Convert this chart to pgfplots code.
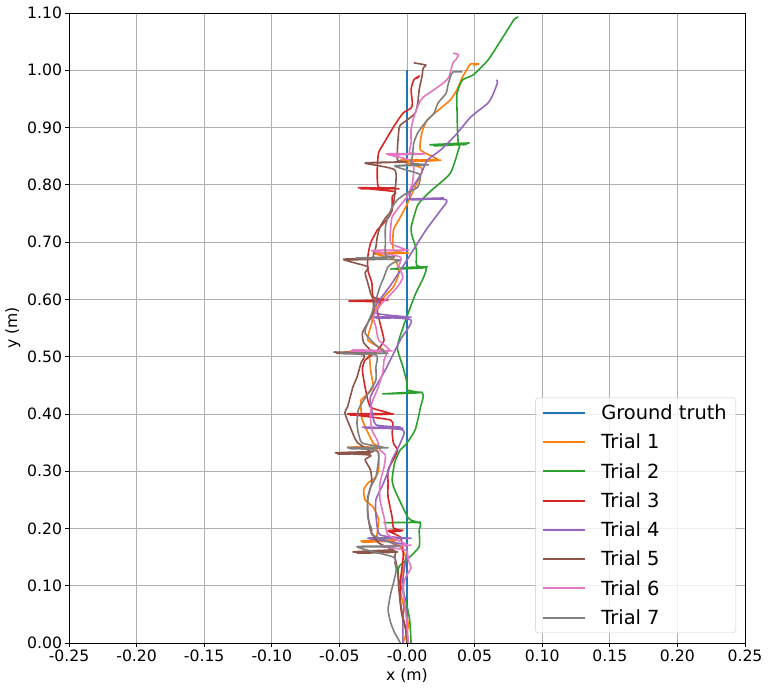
\documentclass[border=0pt]{standalone}
\usepackage{fontspec}
\setmainfont{DejaVu Sans}
\usepackage{pgfplots}
\pgfplotsset{compat=1.18}
\definecolor{tabblue}{HTML}{1F77B4}
\definecolor{taborange}{HTML}{FF7F0E}
\definecolor{tabgreen}{HTML}{2CA02C}
\definecolor{tabred}{HTML}{D62728}
\definecolor{tabpurple}{HTML}{9467BD}
\definecolor{tabbrown}{HTML}{8C564B}
\definecolor{tabpink}{HTML}{E377C2}
\definecolor{tabgray}{HTML}{7F7F7F}
\begin{document}
\begin{tikzpicture}
\begin{axis}[
 scale only axis, width=676bp, height=630bp,
 xmin=-0.25, xmax=0.25, ymin=0, ymax=1.1,
 xtick={-0.25,-0.2,-0.15,-0.1,-0.05,0,0.05,0.1,0.15,0.2,0.25},
 xticklabels={-0.25,-0.20,-0.15,-0.10,-0.05,-0.00,0.05,0.10,0.15,0.20,0.25},
 ytick={0,0.1,0.2,0.3,0.4,0.5,0.6,0.7,0.8,0.9,1.0,1.1},
 yticklabels={0.00,0.10,0.20,0.30,0.40,0.50,0.60,0.70,0.80,0.90,1.00,1.10},
 xtick pos=lower, ytick pos=left,
 tick align=outside, major tick length=3.5bp,
 tick style={black, line width=0.8bp},
 axis line style={line width=0.8bp},
 grid=major, grid style={black!31, line width=0.8bp},
 ticklabel style={font=\fontsize{15.7}{18}\selectfont},
 label style={font=\fontsize{15.7}{18}\selectfont},
 xlabel={x (m)}, ylabel={y (m)},
 legend cell align=left,
 legend style={at={(0.9867,0.0159)}, anchor=south east,
  font=\fontsize{19.5}{23}\selectfont, draw=black!20, fill=white,
  fill opacity=0.8, text opacity=1, rounded corners=3bp,
  inner xsep=7bp, inner ysep=5bp, row sep=9bp,
  /tikz/every odd column/.append style={column sep=13bp}},
 legend image code/.code={\draw[#1, line width=2bp, opacity=1, sharp corners] (0bp,0bp) -- (42bp,0bp);},
 every axis plot/.append style={line width=1.6bp, line join=round, smooth, tension=0.35},
]
% ground truth
\addplot[tabblue] coordinates {(0,0) (0,1.0)};
% trial 1
\addplot[taborange] coordinates {
 (-0.003,0) (0.001,0.028) (0.000,0.045) (-0.003,0.070) (-0.005,0.093) (-0.003,0.127)
 (-0.001,0.150) (-0.006,0.171) (-0.016,0.178)
 (-0.034,0.178) (-0.007,0.180) (-0.033,0.176) (-0.009,0.178)
 (-0.022,0.180) (-0.021,0.215) (-0.025,0.237) (-0.031,0.250) (-0.032,0.267)
 (-0.029,0.279) (-0.023,0.290) (-0.021,0.302) (-0.021,0.325) (-0.023,0.339)
 (-0.044,0.342) (-0.018,0.342) (-0.042,0.341) (-0.020,0.342)
 (-0.025,0.349) (-0.033,0.389) (-0.034,0.407) (-0.034,0.424) (-0.029,0.435)
 (-0.025,0.447) (-0.027,0.477) (-0.029,0.506)
 (-0.046,0.508) (-0.014,0.510) (-0.042,0.508) (-0.017,0.510)
 (-0.029,0.529) (-0.026,0.559) (-0.025,0.576) (-0.017,0.604) (-0.010,0.622)
 (-0.006,0.646) (-0.009,0.669)
 (-0.025,0.681) (0.001,0.681) (-0.023,0.679) (-0.001,0.681)
 (-0.010,0.686) (-0.010,0.721) (-0.006,0.739) (-0.001,0.761) (0.004,0.786)
 (0.009,0.812) (0.011,0.829)
 (-0.005,0.843) (0.025,0.843) (-0.003,0.841) (0.023,0.843)
 (0.010,0.861) (0.011,0.891) (0.015,0.913) (0.025,0.934) (0.032,0.948)
 (0.037,0.966) (0.041,0.988) (0.045,1.004) (0.047,1.011) (0.053,1.011) (0.049,1.009)};
% trial 2
\addplot[tabgreen] coordinates {
 (0.003,0) (0.002,0.040) (-0.001,0.075) (-0.006,0.110) (-0.006,0.133) (0.001,0.148)
 (0.009,0.168) (0.009,0.197) (0.009,0.210)
 (-0.017,0.210) (0.010,0.211) (-0.014,0.210) (0.007,0.211)
 (0.001,0.218) (-0.009,0.267) (-0.011,0.285) (-0.009,0.316) (-0.005,0.337)
 (-0.001,0.346) (0.006,0.372) (0.010,0.412) (0.011,0.437)
 (-0.018,0.435) (0.011,0.438) (-0.015,0.435) (0.009,0.437)
 (0.000,0.442) (0.000,0.454) (-0.003,0.482) (-0.007,0.512) (-0.006,0.529)
 (-0.001,0.564) (0.006,0.608) (0.014,0.655)
 (-0.012,0.653) (0.015,0.657) (-0.009,0.653) (0.012,0.655)
 (0.007,0.660) (0.007,0.686) (0.004,0.709) (0.003,0.725) (0.008,0.765)
 (0.017,0.788) (0.032,0.820) (0.038,0.861) (0.038,0.870)
 (0.017,0.870) (0.046,0.873) (0.020,0.868) (0.044,0.871)
 (0.038,0.873) (0.037,0.931) (0.037,0.960) (0.041,0.983) (0.049,0.992)
 (0.060,1.018) (0.071,1.058) (0.079,1.088) (0.082,1.093) (0.080,1.090)};
% trial 3
\addplot[tabred] coordinates {
 (0.001,0) (0.000,0.017) (-0.003,0.045) (-0.005,0.075) (-0.005,0.105) (-0.003,0.145)
 (-0.003,0.162) (-0.005,0.185)
 (-0.014,0.196) (-0.003,0.197) (-0.013,0.194) (-0.004,0.196)
 (-0.010,0.201) (-0.011,0.220) (-0.014,0.255) (-0.014,0.279) (-0.014,0.302)
 (-0.009,0.325) (-0.007,0.337) (-0.010,0.349) (-0.011,0.367) (-0.012,0.389)
 (-0.044,0.400) (-0.010,0.400) (-0.042,0.398) (-0.012,0.400)
 (-0.027,0.412) (-0.031,0.447) (-0.033,0.477) (-0.031,0.494) (-0.023,0.508)
 (-0.019,0.520) (-0.017,0.529) (-0.020,0.559) (-0.022,0.581) (-0.020,0.595)
 (-0.043,0.597) (-0.014,0.599) (-0.041,0.597) (-0.016,0.599)
 (-0.025,0.604) (-0.026,0.629) (-0.029,0.651) (-0.029,0.674) (-0.027,0.698)
 (-0.022,0.721) (-0.020,0.726) (-0.014,0.742) (-0.011,0.756) (-0.011,0.779)
 (-0.009,0.788)
 (-0.036,0.795) (-0.006,0.793) (-0.034,0.793) (-0.009,0.795)
 (-0.021,0.796) (-0.022,0.826) (-0.021,0.856) (-0.017,0.873) (-0.010,0.901)
 (-0.003,0.925) (0.003,0.934) (0.004,0.943) (0.003,0.966) (0.005,0.983)
 (0.009,0.990) (0.007,0.985)};
% trial 4
\addplot[tabpurple] coordinates {
 (-0.003,0) (-0.003,0.040) (-0.002,0.075) (-0.003,0.110) (-0.001,0.145) (-0.001,0.171)
 (-0.029,0.183) (0.003,0.183) (-0.027,0.182) (0.000,0.183)
 (-0.020,0.189) (-0.023,0.224) (-0.023,0.250) (-0.018,0.276) (-0.014,0.299)
 (-0.011,0.320) (-0.005,0.349) (-0.003,0.372)
 (-0.033,0.377) (-0.003,0.375) (-0.031,0.375) (-0.005,0.377)
 (-0.023,0.381) (-0.026,0.407) (-0.027,0.430) (-0.016,0.477) (-0.005,0.529)
 (0.003,0.564)
 (-0.025,0.569) (0.003,0.569) (-0.023,0.567) (0.001,0.569)
 (-0.025,0.578) (-0.012,0.625) (-0.001,0.665) (0.014,0.721) (0.025,0.756)
 (0.029,0.774)
 (0.001,0.775) (0.027,0.777) (0.003,0.774)
 (0.003,0.791) (0.010,0.817) (0.015,0.843) (0.025,0.861) (0.036,0.887)
 (0.047,0.918) (0.060,0.943) (0.064,0.960) (0.067,0.979) (0.066,0.983)};
% trial 5
\addplot[tabbrown] coordinates {
 (0.000,0) (-0.001,0.023) (-0.004,0.052) (-0.006,0.093) (-0.007,0.127) (-0.009,0.150)
 (-0.010,0.162)
 (-0.040,0.159) (-0.007,0.159) (-0.037,0.157) (-0.009,0.159)
 (-0.021,0.175) (-0.027,0.197) (-0.029,0.227) (-0.029,0.255) (-0.026,0.279)
 (-0.027,0.302) (-0.031,0.320) (-0.027,0.328)
 (-0.053,0.332) (-0.025,0.334) (-0.051,0.330) (-0.027,0.332)
 (-0.037,0.351) (-0.042,0.377) (-0.046,0.402) (-0.044,0.412) (-0.040,0.447)
 (-0.037,0.464) (-0.034,0.489) (-0.032,0.503)
 (-0.054,0.508) (-0.025,0.506) (-0.052,0.506) (-0.027,0.508)
 (-0.032,0.524) (-0.033,0.541) (-0.029,0.559) (-0.025,0.576) (-0.025,0.599)
 (-0.027,0.611) (-0.029,0.629) (-0.031,0.646) (-0.029,0.657)
 (-0.047,0.670) (-0.017,0.670) (-0.045,0.669) (-0.020,0.670)
 (-0.025,0.674) (-0.023,0.691) (-0.022,0.709) (-0.020,0.726) (-0.016,0.742)
 (-0.012,0.753) (-0.010,0.768) (-0.009,0.786) (-0.009,0.826)
 (-0.031,0.838) (0.000,0.840) (-0.028,0.838) (-0.002,0.840)
 (-0.007,0.843) (-0.007,0.866) (-0.006,0.896) (-0.005,0.904) (0.000,0.913)
 (0.006,0.925) (0.008,0.943) (0.009,0.966) (0.011,0.988) (0.012,1.004)
 (0.014,1.009) (0.005,1.013)};
% trial 6
\addplot[tabpink] coordinates {
 (0.001,0) (0.000,0.028) (-0.001,0.058) (-0.003,0.093) (-0.001,0.115) (0.003,0.131)
 (0.001,0.145) (-0.001,0.162)
 (-0.020,0.169) (0.003,0.171) (-0.017,0.169) (0.000,0.171)
 (-0.014,0.189) (-0.017,0.220) (-0.020,0.250) (-0.020,0.279) (-0.017,0.307)
 (-0.016,0.328) (-0.020,0.337) (-0.022,0.354) (-0.026,0.372) (-0.027,0.395)
 (-0.026,0.419) (-0.022,0.442) (-0.018,0.471) (-0.017,0.494) (-0.016,0.508)
 (-0.042,0.510) (-0.011,0.510) (-0.040,0.512) (-0.013,0.510)
 (-0.021,0.529) (-0.023,0.552) (-0.025,0.569) (-0.021,0.587) (-0.014,0.604)
 (-0.007,0.622) (-0.003,0.639) (-0.006,0.657) (-0.005,0.674)
 (-0.026,0.685) (0.001,0.686) (-0.023,0.685) (-0.001,0.686)
 (-0.012,0.698) (-0.012,0.726) (-0.011,0.744) (-0.006,0.761) (0.000,0.779)
 (0.004,0.803) (0.005,0.831) (0.003,0.843)
 (-0.015,0.854) (0.013,0.854) (-0.013,0.852) (0.011,0.854)
 (0.002,0.856) (0.003,0.873) (0.003,0.896) (0.005,0.918) (0.009,0.943)
 (0.012,0.953) (0.020,0.966) (0.027,0.978) (0.031,0.988) (0.034,1.013)
 (0.036,1.018) (0.038,1.027) (0.034,1.030)};
% trial 7
\addplot[tabgray] coordinates {
 (-0.005,0) (-0.006,0.005) (-0.009,0.017) (-0.012,0.035) (-0.014,0.058) (-0.012,0.087)
 (-0.010,0.105) (-0.008,0.127) (-0.009,0.140) (-0.010,0.150)
 (-0.037,0.168) (-0.005,0.169) (-0.034,0.168) (-0.007,0.169)
 (-0.026,0.189) (-0.026,0.197) (-0.029,0.220) (-0.029,0.250) (-0.027,0.272)
 (-0.023,0.290) (-0.021,0.320) (-0.021,0.332) (-0.025,0.337)
 (-0.044,0.341) (-0.014,0.341) (-0.042,0.339) (-0.017,0.341)
 (-0.033,0.349) (-0.036,0.367) (-0.037,0.384) (-0.036,0.407) (-0.032,0.424)
 (-0.027,0.442) (-0.023,0.459) (-0.023,0.482) (-0.023,0.503)
 (-0.049,0.506) (-0.014,0.506) (-0.047,0.505) (-0.017,0.506)
 (-0.023,0.520) (-0.031,0.541) (-0.029,0.559) (-0.026,0.576) (-0.023,0.599)
 (-0.020,0.622) (-0.017,0.639) (-0.014,0.657) (-0.010,0.664) (-0.006,0.669)
 (-0.038,0.672) (-0.009,0.674) (-0.036,0.672) (-0.011,0.674)
 (-0.016,0.677) (-0.016,0.698) (-0.016,0.726) (-0.014,0.744) (-0.011,0.761)
 (-0.007,0.774) (0.000,0.786) (0.008,0.796) (0.010,0.814) (0.008,0.820)
 (-0.009,0.833) (0.016,0.835) (-0.006,0.833) (0.014,0.835)
 (0.003,0.838) (0.004,0.849) (0.005,0.873) (0.008,0.891) (0.011,0.901)
 (0.015,0.913) (0.020,0.925) (0.023,0.943) (0.029,0.960) (0.030,0.971)
 (0.032,0.988) (0.034,0.997) (0.041,0.997)};
\legend{Ground truth, Trial 1, Trial 2, Trial 3, Trial 4, Trial 5, Trial 6, Trial 7}
\end{axis}
\pgfresetboundingbox
\path[use as bounding box] (-69bp,-48bp) rectangle (701bp,643bp);
\end{tikzpicture}
\end{document}
